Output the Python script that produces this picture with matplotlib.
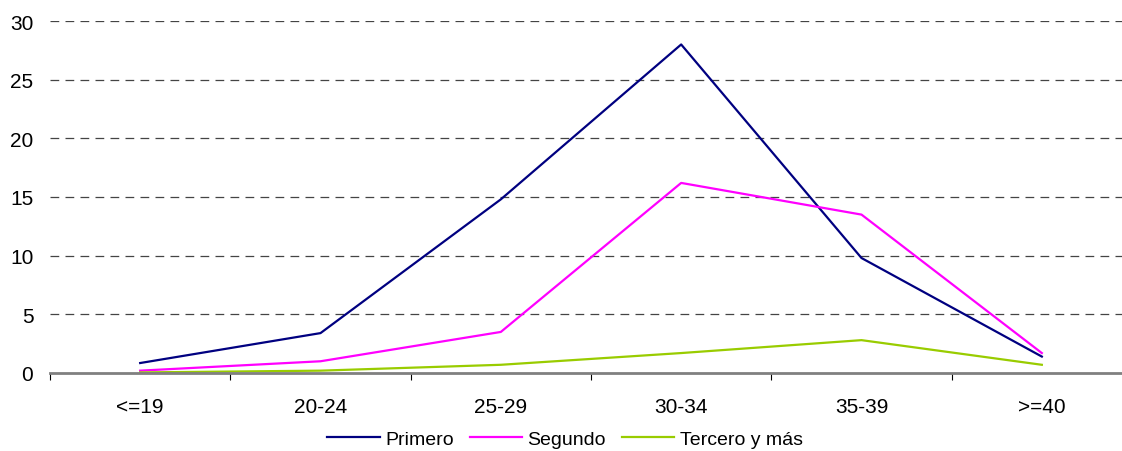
import matplotlib
matplotlib.use("Agg")
import matplotlib.pyplot as plt
import numpy as np

categories = ["<=19", "20-24", "25-29", "30-34", "35-39", ">=40"]
primero = [0.85, 3.4, 14.8, 28.0, 9.8, 1.4]
segundo = [0.2, 1.0, 3.5, 16.2, 13.5, 1.7]
tercero = [0.05, 0.2, 0.7, 1.7, 2.8, 0.7]
yticks = [0, 5, 10, 15, 20, 25, 30]

plt.rcParams['font.family'] = ['Liberation Sans', 'DejaVu Sans']

W, H = 1122, 452
fig = plt.figure(figsize=(W/100, H/100), dpi=100)
left, right, bottom, top = 50, 1132, 374, 22
ax = fig.add_axes([left/W, 1 - bottom/H, (right-left)/W, (bottom-top)/H])

x = np.arange(len(categories))
ax.plot(x, primero, color="#000080", lw=1.6, label="Primero")
ax.plot(x, segundo, color="#FF00FF", lw=1.6, label="Segundo")
ax.plot(x, tercero, color="#99CC00", lw=1.6, label="Tercero y más")

ax.set_xlim(-0.5, len(categories) - 0.5)
ax.set_ylim(0, 30)
ax.set_yticks(yticks)
ax.set_yticklabels([str(v) for v in yticks], fontsize=15)
for v in yticks[1:]:
    ax.axhline(v, color="#444444", lw=0.9, dashes=(7, 5), zorder=0)

ax.set_xticks(x)
ax.set_xticklabels(categories, fontsize=15)
ax.tick_params(axis='x', length=0, pad=17)
ax.tick_params(axis='y', length=0, pad=12)
ax.set_xticks(np.arange(-0.5, len(categories), 1.0), minor=True)
ax.tick_params(axis='x', which='minor', length=5, color='black', width=0.8, direction='out')

for s in ['top', 'right', 'left']:
    ax.spines[s].set_visible(False)
ax.spines['bottom'].set_color('#808080')
ax.spines['bottom'].set_linewidth(2)

leg = fig.legend(loc='center', bbox_to_anchor=(565/W, 1 - 440/H), ncol=3, frameon=False,
                 fontsize=14, handlelength=2.7, handletextpad=0.28, columnspacing=0.8)

fig.savefig("out.png", dpi=100)
